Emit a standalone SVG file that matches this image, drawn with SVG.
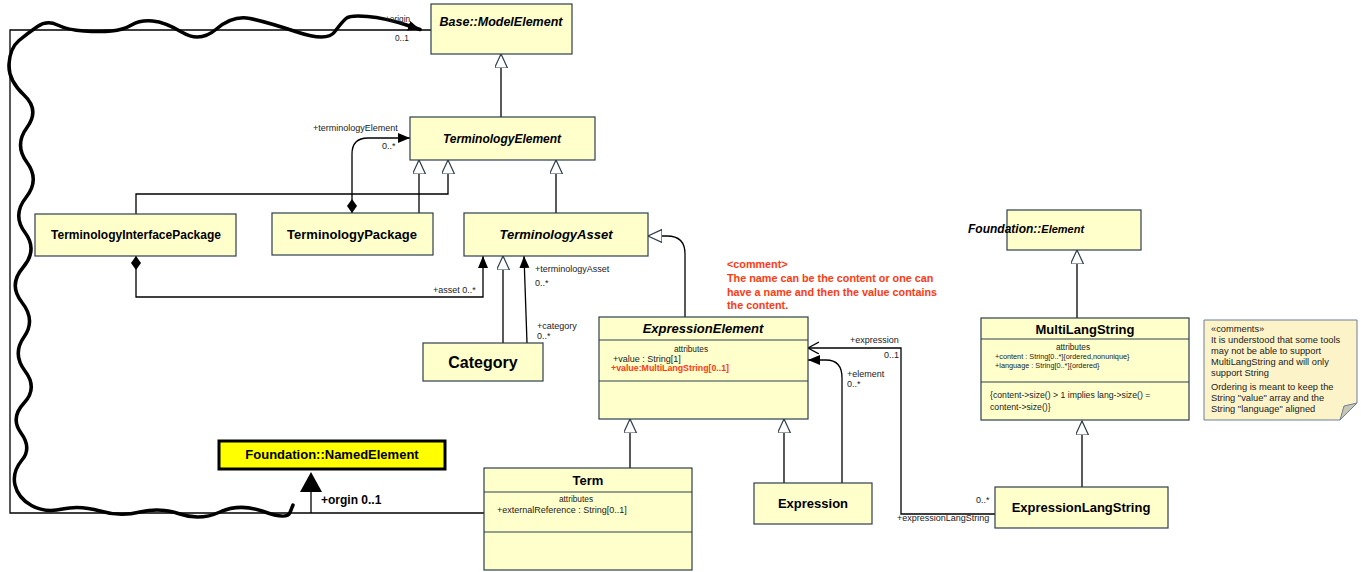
<svg xmlns="http://www.w3.org/2000/svg" width="1361" height="572" viewBox="0 0 1361 572">
<style>
text{font-family:"Liberation Sans",Arial,sans-serif;fill:#000}
.box{fill:#ffffcc;stroke:#2e3e4c;stroke-width:1.2}
.t{font-weight:bold;text-anchor:middle}
.ti{font-weight:bold;font-style:italic;text-anchor:middle}
.lbl{font-size:9px;fill:#222}
.sm{font-size:8.3px;fill:#222}
.attr{font-size:9px;fill:#222}
.ln{fill:none;stroke:#000;stroke-width:1.3}
.sep{stroke:#2e3e4c;stroke-width:1.2}
.red{font-size:10.8px;font-weight:bold;fill:#ff3a12}
.note{font-size:9.3px;fill:#222}
</style>
<defs>
<marker id="gen" markerUnits="userSpaceOnUse" markerWidth="16" markerHeight="15" refX="14" refY="6.5" orient="auto"><path d="M0,0 L14,6.5 L0,13 z" fill="#fff" stroke="#2e3e4c" stroke-width="1.2"/></marker>
<marker id="arr" markerUnits="userSpaceOnUse" markerWidth="13" markerHeight="11" refX="12" refY="5" orient="auto"><path d="M0,0 L12,5 L0,10 z" fill="#000"/></marker>
<marker id="open" markerUnits="userSpaceOnUse" markerWidth="13" markerHeight="13" refX="11" refY="6" orient="auto"><path d="M0,0 L11,6 L0,12" fill="none" stroke="#000" stroke-width="1.3"/></marker>
<marker id="dia" markerUnits="userSpaceOnUse" markerWidth="15" markerHeight="11" refX="0" refY="5" orient="auto"><path d="M0,5 L7,0 L14,5 L7,10 z" fill="#000"/></marker>
<marker id="big" markerUnits="userSpaceOnUse" markerWidth="24" markerHeight="24" refX="1" refY="11" orient="auto"><path d="M0,0 L20,11 L0,22 z" fill="#000"/></marker>
</defs>

<g id="connectors">
<path class="ln" d="M484,513 H10 V30 H431"/>
<path class="ln" d="M501,117 V54" marker-end="url(#gen)"/>
<path class="ln" d="M136,214 V194 H448 V160" marker-end="url(#gen)"/>
<path class="ln" d="M419,213 V160" marker-end="url(#gen)"/>
<path class="ln" d="M556,213 V160" marker-end="url(#gen)"/>
<path class="ln" d="M352,213 V154 Q352,138 368,138 H410" marker-start="url(#dia)" marker-end="url(#arr)"/>
<path class="ln" d="M136,256 V297 H483 V256" marker-start="url(#dia)" marker-end="url(#arr)"/>
<path class="ln" d="M503,343 V256" marker-end="url(#gen)"/>
<path class="ln" d="M527,343 L524,256" marker-end="url(#arr)"/>
<path class="ln" d="M685,317 V254 Q685,236 667,236 H648" marker-end="url(#gen)"/>
<path class="ln" d="M630,468 V419" marker-end="url(#gen)"/>
<path class="ln" d="M784,483 V419" marker-end="url(#gen)"/>
<path class="ln" d="M842,483 V378" />
<path class="ln" d="M842,378 Q842,360 826,360 H808" stroke="#1d5a78" marker-end="url(#arr)"/>
<path class="ln" d="M995,514 H901 V348 H808" marker-end="url(#open)"/>
<path class="ln" d="M1077,318 V250" marker-end="url(#gen)"/>
<path class="ln" d="M1082,487 V421" marker-end="url(#gen)"/>
<path class="ln" d="M311,513 V491" stroke-width="3.5" marker-end="url(#big)"/>
<path d="M293,505 L290,512.5 Q287,520 263.5,511.5 Q240,503 220,512 Q200,521 180,514 Q160,507 140,512 Q120,517 100,511 Q80,505 62.5,509 Q45,513 31.5,505.5 Q18,498 15,485 Q12,472 22,460 Q32,448 21,433 Q10,418 24,403 Q38,388 25,371 Q12,354 24,337 Q36,320 22,302.5 Q8,285 23,267.5 Q38,250 25,232.5 Q12,215 26,197.5 Q40,180 27,162.5 Q14,145 27,127.5 Q40,110 24,95 Q8,80 9,64 Q10,48 19,40.5 Q28,33 37.5,26.5 Q47,20 57.5,25 Q68,30 84,31 Q100,32 111.5,31 Q123,30 131.5,25 Q140,20 152.5,21 Q165,22 182.5,32.5 Q200,43 216.5,29 Q233,15 250,18.5 Q267,22 297,32 Q327,42 334.5,32 Q342,22 346,18.5 Q350,15 367.5,16.5 Q385,18 406.5,25 L420,29.5" fill="none" stroke="#000" stroke-width="3.5" stroke-linecap="round" stroke-linejoin="round" marker-end="url(#arr)"/>
<text class="sm" x="385" y="22">+origin</text>
<text class="sm" x="395" y="41">0..1</text>
<text class="lbl" x="313" y="131">+terminologyElement</text>
<text class="lbl" x="382" y="149">0..*</text>
<text class="lbl" x="433" y="293">+asset 0..*</text>
<text class="lbl" x="535" y="272">+terminologyAsset</text>
<text class="lbl" x="535" y="286">0..*</text>
<text class="lbl" x="537" y="329">+category</text>
<text class="lbl" x="537" y="339">0..*</text>
<text class="lbl" x="850" y="343">+expression</text>
<text class="lbl" x="884" y="358">0..1</text>
<text class="lbl" x="847" y="377">+element</text>
<text class="lbl" x="847" y="387">0..*</text>
<text class="lbl" x="976" y="503">0..*</text>
<text class="lbl" x="897" y="521">+expressionLangString</text>
<text x="321" y="504" font-size="12" font-weight="bold">+orgin 0..1</text>
</g>

<g id="comment">
<text class="red" x="727" y="268">&lt;comment&gt;</text>
<text class="red" x="727" y="282">The name can be the content or one can</text>
<text class="red" x="727" y="296">have a name and then the value contains</text>
<text class="red" x="727" y="309">the content.</text>
</g>

<g id="ModelElement">
<rect class="box" x="431" y="4" width="141" height="50"/>
<text class="ti" x="501" y="26" font-size="12.5">Base::ModelElement</text>
</g>
<g id="TerminologyElement">
<rect class="box" x="410" y="117" width="185" height="43"/>
<text class="ti" x="502" y="143" font-size="12">TerminologyElement</text>
</g>
<g id="TerminologyInterfacePackage">
<rect class="box" x="35" y="214" width="201" height="42"/>
<text class="t" x="136" y="239" font-size="12">TerminologyInterfacePackage</text>
</g>
<g id="TerminologyPackage">
<rect class="box" x="272" y="213" width="161" height="42"/>
<text class="t" x="352" y="239" font-size="13">TerminologyPackage</text>
</g>
<g id="TerminologyAsset">
<rect class="box" x="464" y="213" width="184" height="43"/>
<text class="ti" x="556" y="239" font-size="13">TerminologyAsset</text>
</g>
<g id="Category">
<rect class="box" x="423" y="343" width="120" height="38"/>
<text class="t" x="483" y="368" font-size="16">Category</text>
</g>
<g id="ExpressionElement">
<rect class="box" x="599" y="317" width="209" height="102"/>
<line class="sep" x1="599" y1="340" x2="808" y2="340"/>
<line class="sep" x1="599" y1="381" x2="808" y2="381"/>
<text class="ti" x="703" y="333" font-size="13">ExpressionElement</text>
<text class="sm" x="691" y="352" text-anchor="middle">attributes</text>
<text class="attr" x="613" y="362">+value : String[1]</text>
<text x="611" y="370.5" font-size="8.8" font-weight="bold" style="fill:#ff3a12">+value:MultiLangString[0..1]</text>
</g>
<g id="Term">
<rect class="box" x="484" y="468" width="208" height="102"/>
<line class="sep" x1="484" y1="492" x2="692" y2="492"/>
<line class="sep" x1="484" y1="532" x2="692" y2="532"/>
<text class="t" x="588" y="485" font-size="13">Term</text>
<text class="sm" x="576" y="502" text-anchor="middle">attributes</text>
<text class="attr" x="497" y="513">+externalReference : String[0..1]</text>
</g>
<g id="Expression">
<rect class="box" x="754" y="483" width="118" height="41"/>
<text class="t" x="813" y="508" font-size="13">Expression</text>
</g>
<g id="ExpressionLangString">
<rect class="box" x="995" y="487" width="173" height="41"/>
<text class="t" x="1081" y="512" font-size="13">ExpressionLangString</text>
</g>
<g id="Element">
<rect class="box" x="1007" y="210" width="134" height="40"/>
<text x="968" y="233" font-weight="bold" font-style="italic" font-size="12">Foundation::<tspan font-size="11">Element</tspan></text>
</g>
<g id="MultiLangString">
<rect class="box" x="981" y="318" width="208" height="102"/>
<line class="sep" x1="981" y1="339" x2="1189" y2="339"/>
<line class="sep" x1="981" y1="382" x2="1189" y2="382"/>
<text class="t" x="1085" y="334" font-size="13">MultiLangString</text>
<text class="sm" x="1073" y="349.5" text-anchor="middle" font-size="7.5">attributes</text>
<text x="995" y="359" font-size="7.3" style="fill:#222">+content : String[0..*]{ordered,nonunique}</text>
<text x="995" y="368" font-size="7.3" style="fill:#222">+language : String[0..*]{ordered}</text>
<text x="990" y="398" font-size="8.7" style="fill:#222">{content-&gt;size() &gt; 1 implies lang-&gt;size() =</text>
<text x="990" y="410" font-size="8.7" style="fill:#222">content-&gt;size()}</text>
</g>
<g id="NamedElement">
<rect x="219" y="441" width="226" height="28" fill="#ffff00" stroke="#000" stroke-width="3"/>
<text class="t" x="332" y="459" font-size="13">Foundation::NamedElement</text>
</g>
<g id="Note">
<path d="M1204,320 H1357 V403 L1340,420 H1204 Z" fill="#fcf3c8" stroke="#6b7f9a" stroke-width="1"/>
<path d="M1340,420 L1344,406 L1357,403 Z" fill="#c9c6b4" stroke="#6b7f9a" stroke-width="1"/>
<text class="note" x="1211" y="332">«comments»</text>
<text class="note" x="1211" y="343">It is understood that some tools</text>
<text class="note" x="1211" y="354">may not be able to support</text>
<text class="note" x="1211" y="365">MultiLangString and will only</text>
<text class="note" x="1211" y="376">support String</text>
<text class="note" x="1211" y="390">Ordering is meant to keep the</text>
<text class="note" x="1211" y="401">String "value" array and the</text>
<text class="note" x="1211" y="412">String "language" aligned</text>
</g>
</svg>
